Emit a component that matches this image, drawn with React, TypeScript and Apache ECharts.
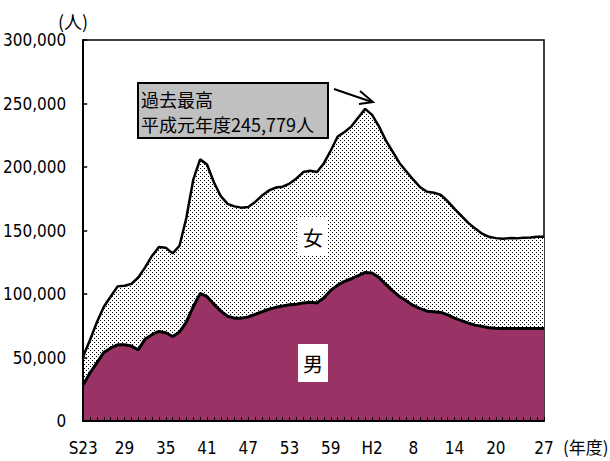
import React, { useEffect, useRef } from "react";
import * as echarts from "echarts";

const years: string[] = (() => {
  const out: string[] = [];
  for (let y = 23; y <= 63; y++) out.push(y === 23 ? "S23" : String(y));
  for (let y = 1; y <= 27; y++) out.push(y === 2 ? "H2" : String(y));
  return out;
})();

const male: number[] = [
  28500, 38000, 46000, 54000, 57500, 60000, 60000, 59000, 56000, 64500,
  68000, 70500, 69500, 66500, 70000, 78000, 90000, 100500, 98000, 92000,
  86500, 82500, 81000, 81000, 82000, 84000, 86000, 88000, 89500, 90500,
  91500, 92000, 93000, 93500, 93000, 97000, 103000, 107000, 110000, 112000,
  114500, 117000, 116500, 113000, 107500, 102500, 98000, 94500, 91000, 88500,
  86500, 86000, 85500, 83500, 81000, 79000, 77000, 75500, 74500, 73500,
  73000, 72800, 72800, 72800, 72800, 72800, 72800, 72800,
];

const female: number[] = [
  22500, 26000, 32000, 36000, 40500, 46000, 46500, 49000, 57000, 56500,
  62000, 66500, 67000, 65500, 68000, 82000, 100000, 105500, 104000, 96000,
  90500, 88500, 88000, 87000, 86500, 88500, 91500, 93500, 94300, 94000,
  95500, 99000, 103000, 103500, 103000, 106000, 110000, 117000, 117500, 120000,
  124500, 128779, 124500, 119000, 113500, 109500, 105000, 102000, 99000, 95500,
  94000, 93800, 92500, 89500, 86000, 82500, 79000, 76000, 73000, 71500,
  71000, 70700, 71200, 71000, 71400, 71700, 72200, 72200,
];

const yTicks = { min: 0, max: 300000, interval: 50000 };

const NARROW = "'Liberation Sans Narrow', 'DejaVu Sans Condensed', 'Liberation Sans', sans-serif";
const JP = "'Noto Sans CJK JP', 'Noto Sans', sans-serif";

function makePattern(): HTMLCanvasElement {
  const c = document.createElement("canvas");
  c.width = 4;
  c.height = 4;
  const ctx = c.getContext("2d")!;
  ctx.fillStyle = "#ffffff";
  ctx.fillRect(0, 0, 4, 4);
  ctx.fillStyle = "#000000";
  ctx.fillRect(0, 0, 1, 1);
  ctx.fillRect(2, 2, 1, 1);
  return c;
}

export default function App() {
  const ref = useRef<HTMLDivElement>(null);
  useEffect(() => {
    if (!ref.current) return;
    const chart = echarts.init(ref.current, null, { renderer: "svg" });
    const lastIdx = years.length - 1;
    chart.setOption({
      animation: false,
      backgroundColor: "#ffffff",
      grid: {
        left: 82,
        right: 66,
        top: 40,
        bottom: 40,
        show: true,
        borderColor: "#000",
        borderWidth: 1.5,
        backgroundColor: "transparent",
      },
      xAxis: {
        type: "category",
        data: years,
        boundaryGap: false,
        axisLine: { show: true, lineStyle: { color: "#000", width: 2 } },
        axisTick: {
          show: true,
          inside: true,
          interval: 0,
          length: 4,
          lineStyle: { color: "#000", width: 1 },
        },
        axisLabel: {
          interval: (i: number) => (i % 6 === 0 && i <= 60) || i === lastIdx,
          color: "#000",
          fontFamily: NARROW,
          fontSize: 17,
          margin: 18,
        },
        splitLine: { show: false },
        z: 10,
      },
      yAxis: {
        type: "value",
        min: yTicks.min,
        max: yTicks.max,
        interval: yTicks.interval,
        axisLine: { show: true, lineStyle: { color: "#000", width: 2 } },
        axisTick: { show: true, inside: true, length: 4, lineStyle: { color: "#000", width: 1.5 } },
        axisLabel: {
          color: "#000",
          fontFamily: NARROW,
          fontSize: 17,
          margin: 17,
          formatter: (v: number) => v.toLocaleString("en-US"),
        },
        splitLine: { show: false },
        z: 10,
      },
      series: [
        {
          name: "男",
          type: "line",
          stack: "total",
          data: male,
          symbol: "none",
          lineStyle: { color: "#000", width: 3 },
          areaStyle: { color: "#993366", opacity: 1 },
          z: 3,
        },
        {
          name: "女",
          type: "line",
          stack: "total",
          data: female,
          symbol: "none",
          lineStyle: { color: "#000", width: 2.5 },
          areaStyle: { color: { image: makePattern(), repeat: "repeat" }, opacity: 1 },
          z: 2,
        },
      ],
      graphic: [
        {
          type: "text",
          left: 58,
          top: 12,
          style: { text: "(人)", font: `18px ${JP}`, fill: "#000" },
        },
        {
          type: "text",
          left: 563,
          top: 438,
          style: { text: "(年度)", font: `17px ${JP}`, fill: "#000" },
        },
        {
          type: "rect",
          shape: { x: 138, y: 83, width: 190, height: 55 },
          style: { fill: "#c0c0c0", stroke: "#000", lineWidth: 2 },
          z: 20,
        },
        {
          type: "text",
          x: 141,
          y: 90,
          style: { text: "過去最高", font: `18px ${JP}`, fill: "#000" },
          z: 21,
        },
        {
          type: "text",
          x: 141,
          y: 115,
          style: { text: "平成元年度245,779人", font: `18px ${JP}`, fill: "#000" },
          z: 21,
        },
        {
          type: "line",
          shape: { x1: 334, y1: 89, x2: 372, y2: 102 },
          style: { stroke: "#000", lineWidth: 2 },
          z: 21,
        },
        {
          type: "polyline",
          shape: { points: [[360, 91], [373, 102], [359, 104]] },
          style: { stroke: "#000", lineWidth: 2, fill: "none" },
          z: 21,
        },
        {
          type: "rect",
          shape: { x: 298, y: 218, width: 30, height: 38 },
          style: { fill: "#fff" },
          z: 20,
        },
        {
          type: "text",
          x: 313,
          y: 237,
          style: {
            text: "女",
            font: `20px ${JP}`,
            fill: "#000",
            align: "center",
            verticalAlign: "middle",
          },
          z: 21,
        },
        {
          type: "rect",
          shape: { x: 298, y: 344, width: 30, height: 38 },
          style: { fill: "#fff" },
          z: 20,
        },
        {
          type: "text",
          x: 313,
          y: 363,
          style: {
            text: "男",
            font: `20px ${JP}`,
            fill: "#000",
            align: "center",
            verticalAlign: "middle",
          },
          z: 21,
        },
      ],
    });
    return () => chart.dispose();
  }, []);
  return (
    <div
      ref={ref}
      style={{ position: "fixed", left: 0, top: 0, width: 610, height: 461 }}
    />
  );
}
